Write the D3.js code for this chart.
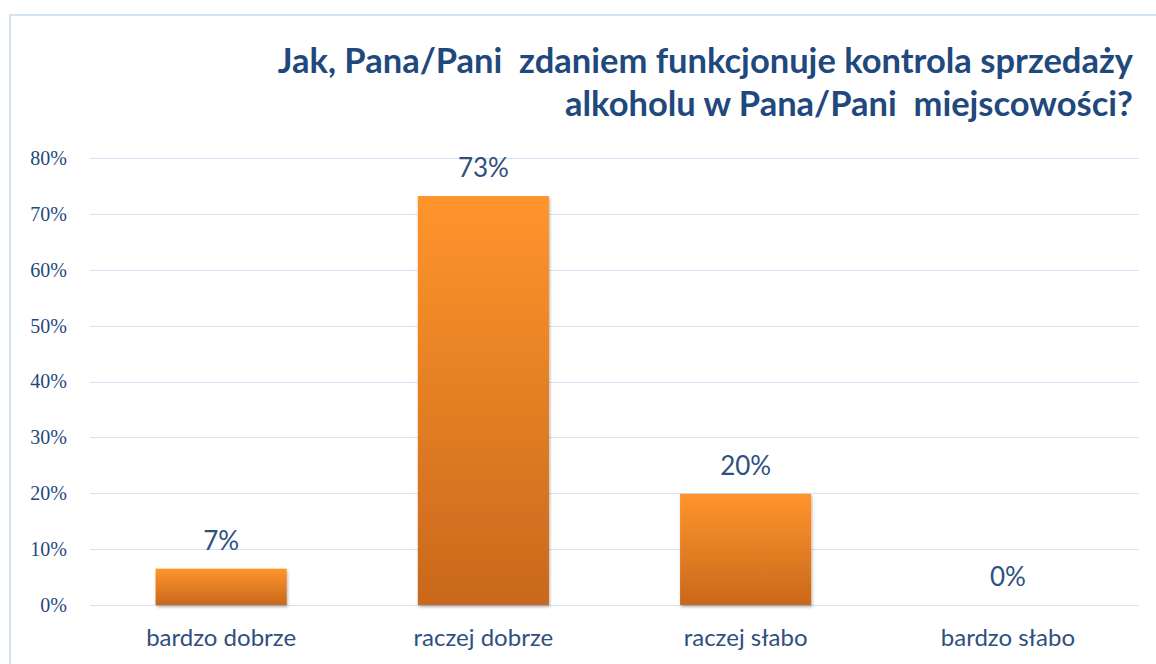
<!DOCTYPE html>
<html>
<head>
<meta charset="utf-8">
<script src="https://cdn.jsdelivr.net/npm/d3@7"></script>
<style>
  body { margin: 0; background: #fff; }
  svg { display: block; }
</style>
</head>
<body>
<div id="chart"></div>
<script>
const categories = ['bardzo dobrze', 'raczej dobrze', 'raczej słabo', 'bardzo słabo'];
const values = [6.5, 73.2, 19.9, 0];
const yTicks = [0, 10, 20, 30, 40, 50, 60, 70, 80];
const titleLines = ['Jak, Pana/Pani  zdaniem funkcjonuje kontrola sprzedaży', 'alkoholu w Pana/Pani  miejscowości?'];

const W = 1156, H = 664;
const margin = {top: 158, right: 17, bottom: 59, left: 90};
const width = W - margin.left - margin.right;
const height = H - margin.top - margin.bottom;
const textColor = '#1f497d';

let svg = d3.select('#chart')
    .append('svg')
    .attr('width', W)
    .attr('height', H);

let defs = svg.append('defs');
let grad = defs.append('linearGradient')
    .attr('id', 'barGrad')
    .attr('x1', 0).attr('y1', 0).attr('x2', 0).attr('y2', 1);
grad.append('stop').attr('offset', '0%').attr('stop-color', '#ff952b');
grad.append('stop').attr('offset', '100%').attr('stop-color', '#c9681d');

let shadow = defs.append('filter').attr('id', 'shadow')
    .attr('x', '-10%').attr('y', '-10%').attr('width', '120%').attr('height', '130%');
shadow.append('feDropShadow')
    .attr('dx', 1).attr('dy', 2).attr('stdDeviation', 1.5)
    .attr('flood-color', '#000').attr('flood-opacity', 0.3);

// Frame
svg.append('path')
    .attr('d', 'M10,' + H + ' V15 H' + W)
    .attr('fill', 'none')
    .attr('stroke', '#d5e3f4')
    .attr('stroke-width', 2);

// Title
let title = svg.append('text')
    .attr('text-anchor', 'end')
    .attr('font-family', 'Lato, "Open Sans", sans-serif')
    .attr('font-weight', 'bold')
    .attr('font-size', 34.5)
    .attr('fill', textColor)
    .style('white-space', 'pre');
titleLines.forEach(function (line, i) {
    title.append('tspan')
        .attr('x', 1133)
        .attr('y', 73 + i * 43)
        .text(line);
});

let g = svg.append('g')
    .attr('transform', 'translate(' + margin.left + ',' + margin.top + ')');

let x = d3.scaleBand()
    .domain(categories)
    .range([0, width])
    .paddingInner(0.5)
    .paddingOuter(0.25);

let y = d3.scaleLinear()
    .domain([0, 80])
    .range([height, 0]);

// Gridlines
g.append('g')
    .selectAll('line')
    .data(yTicks)
    .join('line')
    .attr('x1', 0)
    .attr('x2', width)
    .attr('y1', function (d) { return Math.round(y(d)) + 0.5; })
    .attr('y2', function (d) { return Math.round(y(d)) + 0.5; })
    .attr('stroke', '#d5e3f4')
    .attr('stroke-width', 1.2);

// Y axis
let yAxis = g.append('g')
    .call(d3.axisLeft(y).tickValues(yTicks).tickSize(0).tickPadding(23)
        .tickFormat(function (d) { return d + '%'; }));
yAxis.select('.domain').remove();
yAxis.selectAll('text')
    .attr('font-family', '"Liberation Serif", "DejaVu Serif", serif')
    .attr('font-size', 20)
    .attr('fill', textColor);

// X axis
let xAxis = g.append('g')
    .attr('transform', 'translate(0,' + height + ')')
    .call(d3.axisBottom(x).tickSize(0).tickPadding(24));
xAxis.select('.domain').remove();
xAxis.selectAll('text')
    .attr('font-family', 'Lato, "Open Sans", sans-serif')
    .attr('font-size', 24)
    .attr('fill', '#2f4f7f');

// Bars
g.append('g')
    .selectAll('rect')
    .data(values)
    .join('rect')
    .attr('x', function (d, i) { return x(categories[i]); })
    .attr('y', function (d) { return y(d); })
    .attr('width', x.bandwidth())
    .attr('height', function (d) { return height - y(d); })
    .attr('fill', 'url(#barGrad)')
    .attr('filter', 'url(#shadow)')
    .style('display', function (d) { return d > 0 ? null : 'none'; });

// Value labels
g.append('g')
    .selectAll('text')
    .data(values)
    .join('text')
    .attr('x', function (d, i) { return x(categories[i]) + x.bandwidth() / 2; })
    .attr('y', function (d) { return y(d) - 19; })
    .attr('text-anchor', 'middle')
    .attr('font-family', 'Lato, "Open Sans", sans-serif')
    .attr('font-size', 26)
    .attr('fill', '#2f4f7f')
    .text(function (d) { return Math.round(d) + '%'; });
</script>
</body>
</html>
